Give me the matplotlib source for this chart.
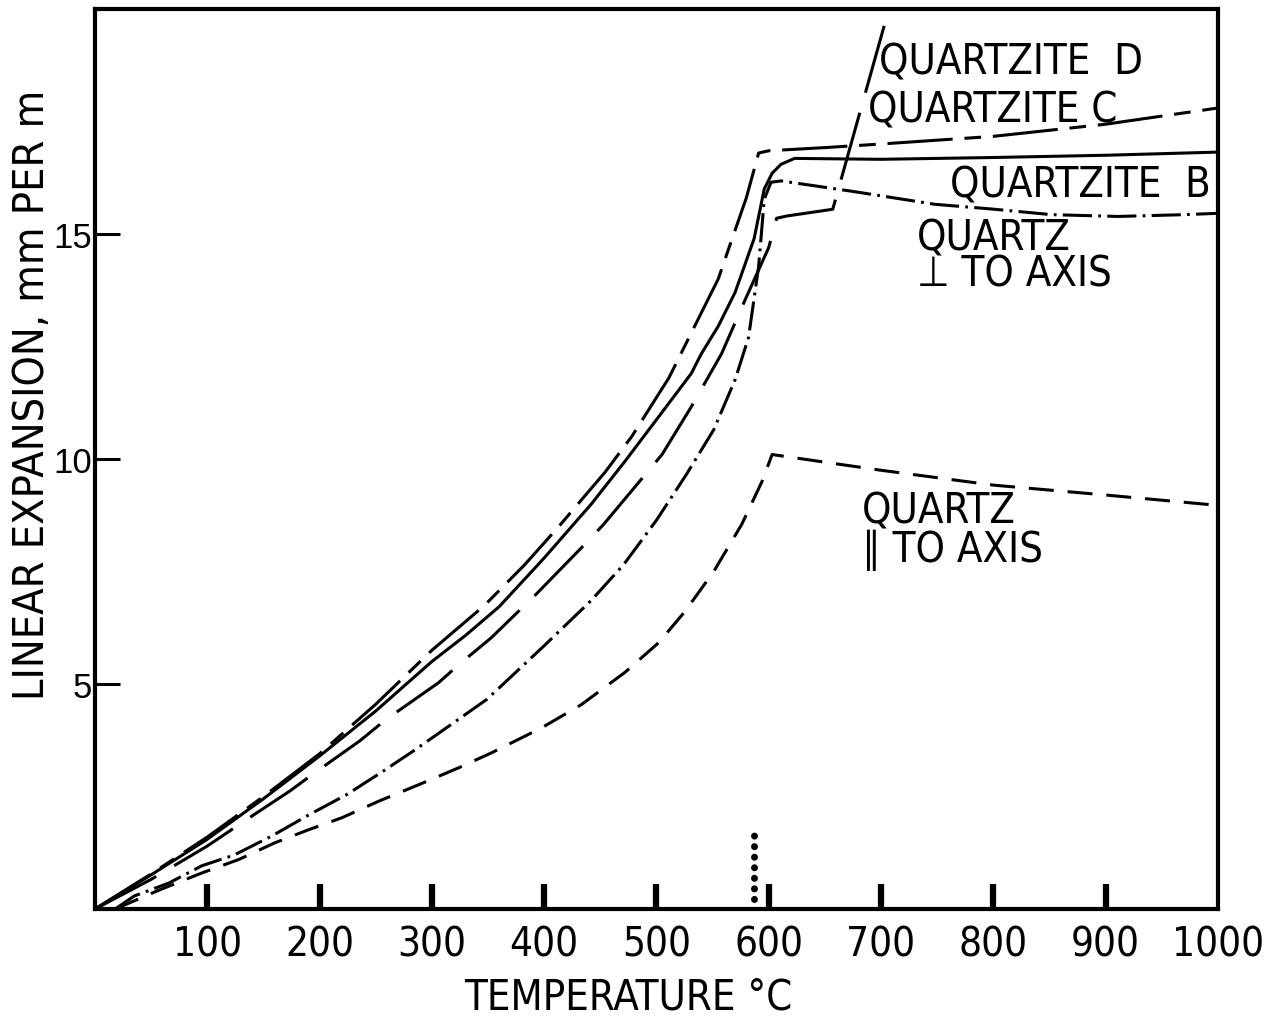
import matplotlib
matplotlib.use('Agg')
import matplotlib.pyplot as plt
from matplotlib import font_manager

# Values (temperature in degC, expansion in mm per m)

# Top curve, long-short dashes, ends as QUARTZITE C
qc_T = [0, 50, 100, 150, 200, 250, 300, 347, 383, 413, 454, 478, 511, 531, 555, 564, 580, 591,
        600, 650, 700, 800, 900, 1000]
qc_E = [0, 0.78, 1.6, 2.5, 3.45, 4.55, 5.75, 6.75, 7.66, 8.5, 9.7, 10.5, 11.8, 12.8, 14.0, 14.65,
        15.8, 16.8, 16.85, 16.92, 17.0, 17.17, 17.44, 17.8]

# Solid curve with rounded knee
qb_T = [0, 50, 100, 150, 200, 250, 300, 330, 360, 400, 442, 472, 502, 531, 540, 555, 570, 587,
        596, 603, 611, 623, 700, 800, 900, 1000]
qb_E = [0, 0.76, 1.55, 2.45, 3.4, 4.4, 5.5, 6.08, 6.72, 7.8, 9.0, 9.95, 10.94, 11.9, 12.34, 12.95,
        13.7, 14.9, 16.0, 16.35, 16.55, 16.68, 16.66, 16.7, 16.75, 16.82]

# Long dashes, flat step then steep rise (QUARTZITE D)
qd_T = [0, 50, 100, 140, 174, 193, 236, 258, 306, 324, 353, 393, 438, 453, 505, 531, 558, 579,
        600, 607, 616, 657, 707]
qd_E = [0, 0.66, 1.4, 2.07, 2.63, 2.98, 3.74, 4.19, 5.03, 5.43, 6.03, 7.0, 8.15, 8.55, 10.1, 11.16,
        12.34, 13.54, 14.7, 15.35, 15.4, 15.55, 20.0]

# Dash-dot curve
qp_T = [18, 35, 66, 95, 124, 158, 191, 224, 257, 284, 316, 349, 400, 442, 471, 500, 527, 551,
        570, 582, 591, 596, 602, 611, 674, 748, 801, 852, 911, 970, 1000]
qp_E = [0, 0.29, 0.58, 0.96, 1.2, 1.63, 2.1, 2.54, 3.07, 3.52, 4.08, 4.66, 5.85, 6.86, 7.66,
        8.64, 9.67, 10.65, 11.76, 12.7, 14.28, 15.77, 16.15, 16.18, 15.95, 15.66, 15.55, 15.43,
        15.39, 15.43, 15.46]

# Short dashes, QUARTZ parallel to axis
qa_T = [18, 57, 95, 128, 160, 190, 220, 253, 289, 324, 353, 398, 433, 472, 502, 525, 551,
        576, 594, 603, 650, 700, 800, 900, 1000]
qa_E = [0, 0.42, 0.8, 1.1, 1.47, 1.76, 2.03, 2.4, 2.77, 3.14, 3.47, 4.03, 4.54, 5.26, 5.92,
        6.6, 7.5, 8.55, 9.5, 10.1, 9.93, 9.75, 9.42, 9.2, 8.97]

# dotted marker near the inversion point
dot_T = [587, 587]
dot_E = [0.22, 1.83]

x_ticks = [100, 200, 300, 400, 500, 600, 700, 800, 900, 1000]
y_ticks = [5, 10, 15]

plt.rcParams['lines.scale_dashes'] = False

# condensed face if the system has one, otherwise plain Liberation Sans
narrow = font_manager.FontProperties(family='DejaVu Sans', stretch='condensed')
if 'ondensed' in font_manager.findfont(narrow):
    NARROW = dict(family='DejaVu Sans', fontstretch='condensed')
else:
    NARROW = dict(family='Liberation Sans')

fig = plt.figure(figsize=(12.85, 10.2), dpi=100)
ax = fig.add_axes([0.0739, 0.1078, 0.8739, 0.8824])

lw = 2.2
ax.plot(qc_T, qc_E, color='black', lw=lw, dashes=(47, 8.5, 12, 8.5))
ax.plot(qb_T, qb_E, color='black', lw=lw)
ax.plot(qd_T, qd_E, color='black', lw=lw, dashes=(50, 15))
ax.plot(qp_T, qp_E, color='black', lw=lw, dashes=(21, 4.5, 2, 4.5))
ax.plot(qa_T, qa_E, color='black', lw=lw, dashes=(18, 10))
ax.plot(dot_T, dot_E, color='black', lw=5, dashes=(0.1, 7.5), dash_capstyle='round')

ax.set_xlim(0, 1000)
ax.set_ylim(0, 20)

for s in ax.spines.values():
    s.set_linewidth(3)

ax.set_xticks(x_ticks)
ax.set_xticklabels([str(t) for t in x_ticks], fontsize=29, **NARROW)
ax.set_yticks(y_ticks)
ax.set_yticklabels([str(t) for t in y_ticks], family='Liberation Sans', fontsize=25)
ax.tick_params(axis='x', direction='in', length=18, width=4.5, pad=11)
ax.tick_params(axis='y', direction='in', length=18, width=2.2, pad=2)
ax.xaxis.get_major_ticks()[-1].tick1line.set_visible(False)

ax.set_xlabel('TEMPERATURE °C', fontsize=30, va='center', **NARROW)
ax.xaxis.set_label_coords(0.475, -0.097)
ax.set_ylabel('LINEAR EXPANSION, mm PER m', fontsize=31, va='center', **NARROW)
ax.yaxis.set_label_coords(-0.056, 0.572)

lab = dict(fontsize=30, va='center', ha='left', **NARROW)
ax.text(698, 18.84, 'QUARTZITE  D', **lab)
ax.text(688, 17.77, 'QUARTZITE C', **lab)
ax.text(761, 16.1, 'QUARTZITE  B', **lab)
ax.text(732, 14.52, 'QUARTZ\n\u22a5 TO AXIS', linespacing=0.82, **lab)
ax.text(683, 8.42, 'QUARTZ\n\u2225 TO AXIS', linespacing=0.9, **lab)

fig.savefig('out.png', dpi=100)
